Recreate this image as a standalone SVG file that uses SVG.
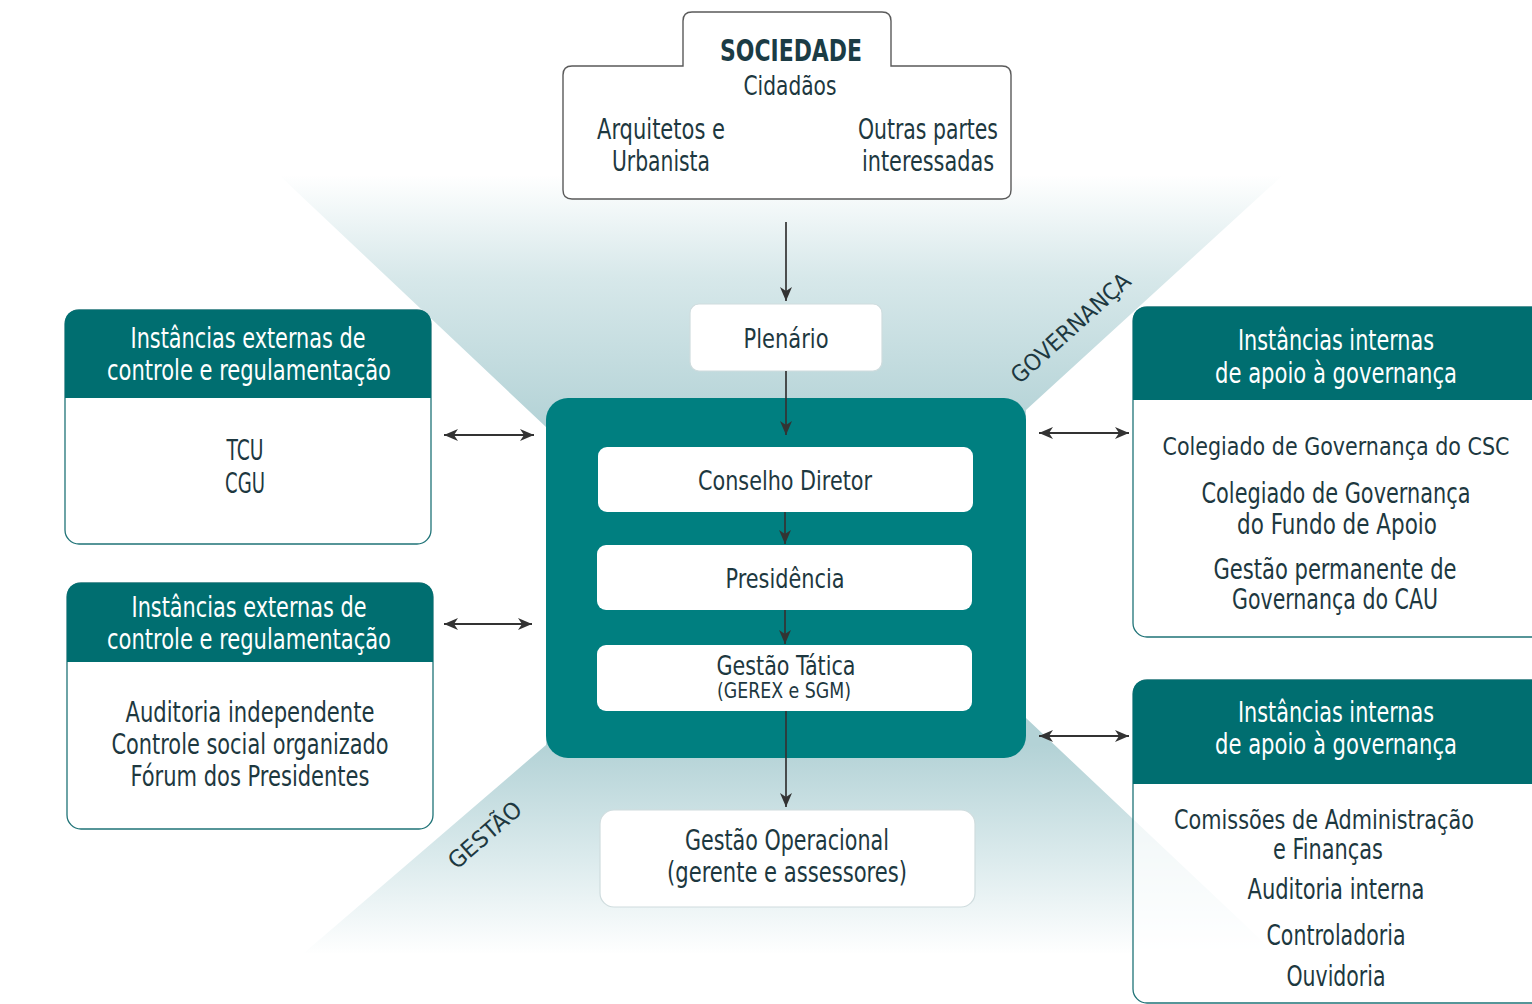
<svg xmlns="http://www.w3.org/2000/svg" width="1532" height="1004" viewBox="0 0 1532 1004">
<defs>
<linearGradient id="gTop" gradientUnits="userSpaceOnUse" x1="0" y1="175" x2="0" y2="430">
<stop offset="0" stop-color="#ffffff"/>
<stop offset="0.4" stop-color="#d7e8ea"/>
<stop offset="1" stop-color="#b3d2d6"/>
</linearGradient>
<linearGradient id="gBot" gradientUnits="userSpaceOnUse" x1="0" y1="745" x2="0" y2="955">
<stop offset="0" stop-color="#b3d2d6"/>
<stop offset="0.55" stop-color="#dcebed"/>
<stop offset="1" stop-color="#ffffff"/>
</linearGradient>
<marker id="ah" viewBox="0 0 14 12" refX="14" refY="6" markerWidth="14" markerHeight="12" markerUnits="userSpaceOnUse" orient="auto-start-reverse">
<path d="M0,0 L14,6 L0,12 L4,6 Z" fill="#333"/>
</marker>
</defs>
<style>
text{font-family:"Liberation Sans Narrow","DejaVu Sans Condensed","Liberation Sans",sans-serif;text-anchor:middle;fill:#1d3840}
.hd{fill:#ffffff;font-size:28px}
.bd{font-size:28px}
.sm{font-size:26px}
.xs{font-size:24px}
.lb{font-size:23px;fill:#1d3840}
.card{fill:#ffffff;stroke:#1f7377;stroke-width:1.3}
.head{fill:#006e70}
.inner{fill:#ffffff}
.conn{stroke:#333;stroke-width:1.7;fill:none}
.dbl{stroke:#333;stroke-width:2.2;fill:none}
</style>
<rect width="1532" height="1004" fill="#ffffff"/>
<g id="background">
<polygon points="279,175 1283,175 1026,410 1026,600 546,600 546,427" fill="url(#gTop)"/>
<polygon points="546,700 1026,700 1026,718 1275,953 304,953 546,745" fill="url(#gBot)"/>
</g>
<g id="sociedade">
<path d="M563,75 Q563,66 572,66 L683,66 L683,21 Q683,12 692,12 L882,12 Q891,12 891,21 L891,66 L1002,66 Q1011,66 1011,75 L1011,190 Q1011,199 1002,199 L572,199 Q563,199 563,190 Z" fill="#ffffff" stroke="#5a5a5a" stroke-width="1.4"/>
<text x="791" y="61" style="font-size:31px;font-weight:bold;fill:#1b3c45" textLength="142" lengthAdjust="spacingAndGlyphs">SOCIEDADE</text>
<text x="790" y="95" style="font-size:27px" textLength="93" lengthAdjust="spacingAndGlyphs">Cidadãos</text>
<text x="661" y="139" class="bd" textLength="128" lengthAdjust="spacingAndGlyphs">Arquitetos e</text>
<text x="661" y="171" class="bd" textLength="98" lengthAdjust="spacingAndGlyphs">Urbanista</text>
<text x="928" y="139" class="bd" textLength="140" lengthAdjust="spacingAndGlyphs">Outras partes</text>
<text x="928" y="171" class="bd" textLength="132" lengthAdjust="spacingAndGlyphs">interessadas</text>
</g>
<g id="plenario">
<rect x="690" y="304" width="192" height="67" rx="9" fill="#ffffff" stroke="#cfdcde" stroke-width="1.2"/>
<text x="786" y="348" style="font-size:27px" textLength="85" lengthAdjust="spacingAndGlyphs">Plenário</text>
</g>
<g id="nucleo">
<rect x="546" y="398" width="480" height="360" rx="22" fill="#007f80"/>
</g>
<g id="conselho">
<rect x="598" y="447" width="375" height="65" rx="9" class="inner"/>
<text x="785" y="490" style="font-size:27px" textLength="174" lengthAdjust="spacingAndGlyphs">Conselho Diretor</text>
</g>
<g id="presidencia">
<rect x="597" y="545" width="375" height="65" rx="9" class="inner"/>
<text x="785" y="588" style="font-size:27px" textLength="119" lengthAdjust="spacingAndGlyphs">Presidência</text>
</g>
<g id="tatica">
<rect x="597" y="645" width="375" height="66" rx="9" class="inner"/>
<text x="786" y="675" style="font-size:27px" textLength="139" lengthAdjust="spacingAndGlyphs">Gestão Tática</text>
<text x="784" y="698" style="font-size:22px" textLength="134" lengthAdjust="spacingAndGlyphs">(GEREX e SGM)</text>
</g>
<g id="operacional">
<rect x="600" y="810" width="375" height="97" rx="14" fill="#ffffff" stroke="#cfdcde" stroke-width="1.2"/>
<text x="787" y="850" style="font-size:28px" textLength="204" lengthAdjust="spacingAndGlyphs">Gestão Operacional</text>
<text x="787" y="882" style="font-size:28px" textLength="240" lengthAdjust="spacingAndGlyphs">(gerente e assessores)</text>
</g>
<g id="externas1">
<rect x="65" y="310" width="366" height="234" rx="14" class="card"/>
<path d="M79,310 L417,310 Q431,310 431,324 L431,398 L65,398 L65,324 Q65,310 79,310 Z" class="head"/>
<text x="248" y="348" class="hd" textLength="235" lengthAdjust="spacingAndGlyphs">Instâncias externas de</text>
<text x="249" y="380" class="hd" textLength="284" lengthAdjust="spacingAndGlyphs">controle e regulamentação</text>
<text x="245" y="460" class="bd" textLength="37" lengthAdjust="spacingAndGlyphs">TCU</text>
<text x="245" y="493" class="bd" textLength="40" lengthAdjust="spacingAndGlyphs">CGU</text>
</g>
<g id="externas2">
<rect x="67" y="583" width="366" height="246" rx="14" class="card"/>
<path d="M81,583 L419,583 Q433,583 433,597 L433,662 L67,662 L67,597 Q67,583 81,583 Z" class="head"/>
<text x="249" y="617" class="hd" textLength="235" lengthAdjust="spacingAndGlyphs">Instâncias externas de</text>
<text x="249" y="649" class="hd" textLength="284" lengthAdjust="spacingAndGlyphs">controle e regulamentação</text>
<text x="250" y="722" class="bd" textLength="249" lengthAdjust="spacingAndGlyphs">Auditoria independente</text>
<text x="250" y="754" class="bd" textLength="277" lengthAdjust="spacingAndGlyphs">Controle social organizado</text>
<text x="250" y="786" class="bd" textLength="239" lengthAdjust="spacingAndGlyphs">Fórum dos Presidentes</text>
</g>
<g id="internas1">
<rect x="1133" y="307" width="420" height="330" rx="14" class="card"/>
<path d="M1147,307 L1553,307 L1553,400 L1133,400 L1133,321 Q1133,307 1147,307 Z" class="head"/>
<text x="1336" y="350" class="hd" textLength="196" lengthAdjust="spacingAndGlyphs">Instâncias internas</text>
<text x="1336" y="383" class="hd" textLength="242" lengthAdjust="spacingAndGlyphs">de apoio à governança</text>
<text x="1336" y="455" class="xs" textLength="347" lengthAdjust="spacingAndGlyphs">Colegiado de Governança do CSC</text>
<text x="1336" y="503" class="bd" textLength="269" lengthAdjust="spacingAndGlyphs">Colegiado de Governança</text>
<text x="1337" y="534" class="bd" textLength="200" lengthAdjust="spacingAndGlyphs">do Fundo de Apoio</text>
<text x="1335" y="579" class="bd" textLength="243" lengthAdjust="spacingAndGlyphs">Gestão permanente de</text>
<text x="1335" y="609" class="bd" textLength="206" lengthAdjust="spacingAndGlyphs">Governança do CAU</text>
</g>
<g id="internas2">
<rect x="1133" y="680" width="420" height="323" rx="14" fill="#ffffff" fill-opacity="0.72" stroke="#1f7377" stroke-width="1.3"/>
<path d="M1147,680 L1553,680 L1553,784 L1133,784 L1133,694 Q1133,680 1147,680 Z" class="head"/>
<text x="1336" y="722" class="hd" textLength="196" lengthAdjust="spacingAndGlyphs">Instâncias internas</text>
<text x="1336" y="754" class="hd" textLength="242" lengthAdjust="spacingAndGlyphs">de apoio à governança</text>
<text x="1324" y="829" class="sm" textLength="300" lengthAdjust="spacingAndGlyphs">Comissões de Administração</text>
<text x="1328" y="859" class="bd" textLength="110" lengthAdjust="spacingAndGlyphs">e Finanças</text>
<text x="1336" y="899" class="bd" textLength="177" lengthAdjust="spacingAndGlyphs">Auditoria interna</text>
<text x="1336" y="945" class="bd" textLength="139" lengthAdjust="spacingAndGlyphs">Controladoria</text>
<text x="1336" y="986" class="bd" textLength="99" lengthAdjust="spacingAndGlyphs">Ouvidoria</text>
</g>
<g id="labels">
<text class="lb" transform="translate(1076,334) rotate(-42)" textLength="152" lengthAdjust="spacingAndGlyphs">GOVERNANÇA</text>
<text class="lb" transform="translate(490,841) rotate(-41)" textLength="89" lengthAdjust="spacingAndGlyphs">GESTÃO</text>
</g>
<g id="connectors">
<path class="conn" d="M786,222 V301" marker-end="url(#ah)"/>
<path class="conn" d="M786,371 V435" marker-end="url(#ah)"/>
<path class="conn" d="M785,512 V544" marker-end="url(#ah)"/>
<path class="conn" d="M785,610 V644" marker-end="url(#ah)"/>
<path class="conn" d="M786,711 V807" marker-end="url(#ah)"/>
<path class="dbl" d="M444,435 H534" marker-start="url(#ah)" marker-end="url(#ah)"/>
<path class="dbl" d="M444,624 H532" marker-start="url(#ah)" marker-end="url(#ah)"/>
<path class="dbl" d="M1039,433 H1129" marker-start="url(#ah)" marker-end="url(#ah)"/>
<path class="dbl" d="M1039,736 H1129" marker-start="url(#ah)" marker-end="url(#ah)"/>
</g>
</svg>
